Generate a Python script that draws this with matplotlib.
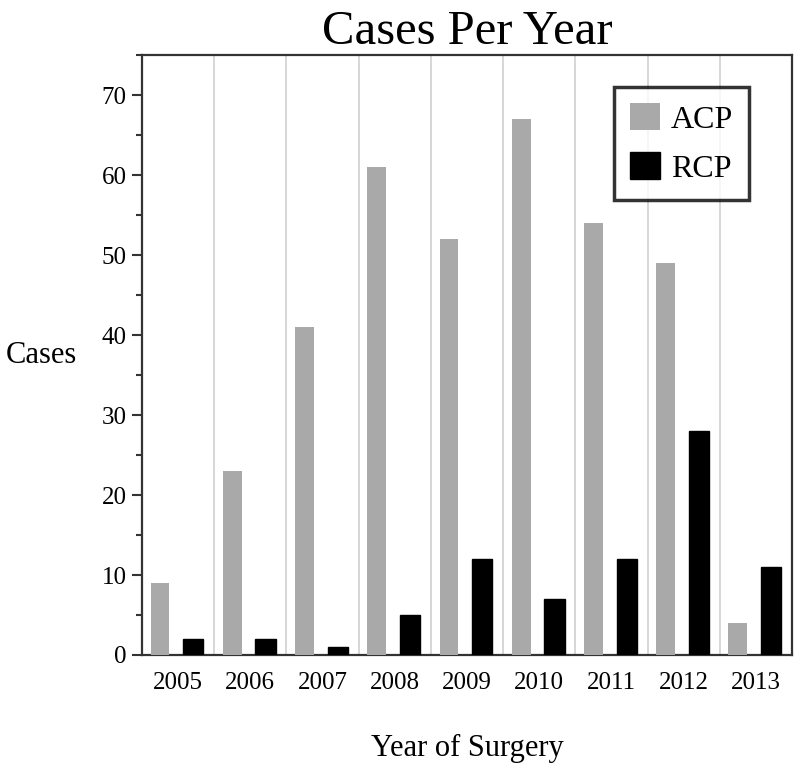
import numpy as np
import matplotlib.pyplot as plt
from matplotlib.ticker import MultipleLocator

# Dados
anos = ['2005', '2006', '2007', '2008', '2009', '2010', '2011', '2012', '2013']
acp = [9, 23, 41, 61, 52, 67, 54, 49, 4]
rcp = [2, 2, 1, 5, 12, 7, 12, 28, 11]

plt.rcParams['font.family'] = ['Liberation Serif', 'DejaVu Serif']

fig = plt.figure(figsize=(8, 7.65), dpi=100)
ax = fig.add_axes([0.1775, 0.1438, 0.8125, 0.7842])

x = np.arange(len(anos))
ax.bar(x - 0.25, acp, width=0.26, color='#a9a9a9', label='ACP', zorder=3)
ax.bar(x + 0.21, rcp, width=0.28, color='black', edgecolor='black', label='RCP', zorder=3)

# Linhas de separação entre categorias
for b in np.arange(0.5, len(anos) - 0.5, 1):
    ax.axvline(b, color='#cfcfcf', linewidth=1.2, zorder=1)

ax.set_xlim(-0.5, len(anos) - 0.5)
ax.set_ylim(0, 75)
ax.set_xticks(x)
ax.set_xticklabels(anos, fontsize=18)
ax.tick_params(axis='x', length=0, pad=12)
ax.yaxis.set_major_locator(MultipleLocator(10))
ax.yaxis.set_minor_locator(MultipleLocator(5))
ax.tick_params(axis='y', which='major', labelsize=18, length=7, width=1.5, color='#333333', pad=4)
ax.tick_params(axis='y', which='minor', length=4, width=1.5, color='#333333')

for s in ax.spines.values():
    s.set_color('#333333')
    s.set_linewidth(1.6)

ax.set_title('Cases Per Year', fontsize=35, pad=8)
ax.set_xlabel('Year of Surgery', fontsize=22, labelpad=29)
ax.set_ylabel('Cases', fontsize=22, rotation=0, labelpad=18, va='center', ha='right')

leg = ax.legend(loc='upper left', bbox_to_anchor=(0.726, 0.947), fontsize=23,
                frameon=True, fancybox=False, handlelength=0.94, handleheight=0.94,
                borderpad=0.5, labelspacing=0.55, handletextpad=0.35, borderaxespad=0)
leg.get_frame().set_edgecolor('black')
leg.get_frame().set_linewidth(2.5)

fig.savefig('out.png', dpi=100)
